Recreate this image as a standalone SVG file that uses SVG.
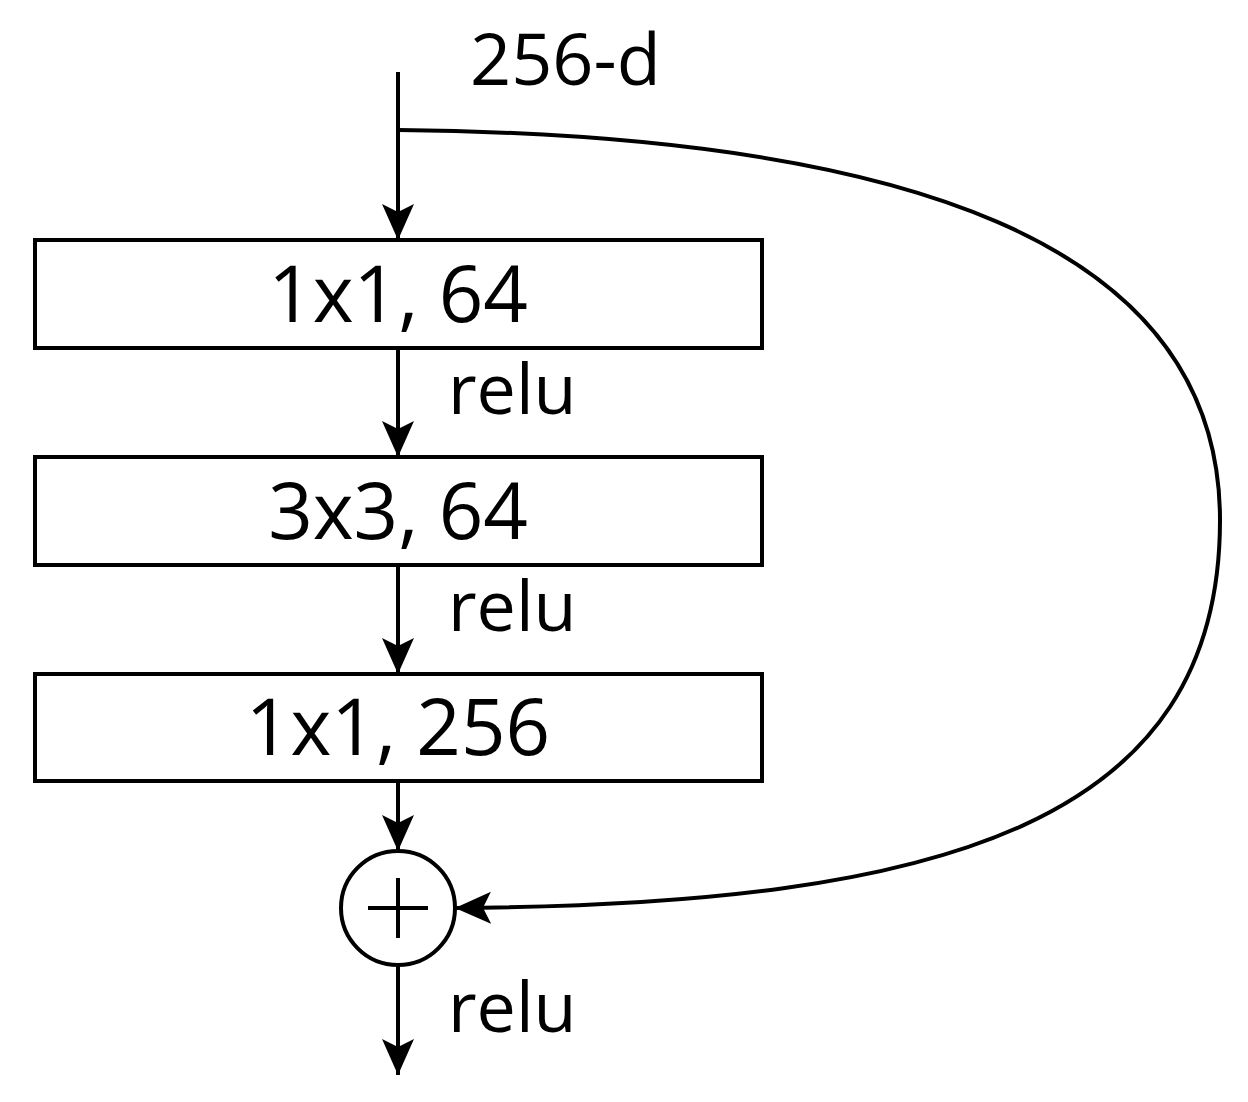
<svg xmlns="http://www.w3.org/2000/svg" width="1248" height="1102" viewBox="0 0 1248 1102">
<style>
.box{fill:#fff;stroke:#000;stroke-width:4}
.ln{fill:none;stroke:#000;stroke-width:4}
.t{font-family:"Open Sans","Noto Sans",sans-serif;fill:#000}
</style>
<defs>
<marker id="a" viewBox="0 0 36 36" refX="36" refY="18" markerWidth="36" markerHeight="36" markerUnits="userSpaceOnUse" orient="auto">
<path d="M0,2 L36,18 L0,34 L8,18 Z" fill="#000"/>
</marker>
</defs>
<rect width="1248" height="1102" fill="#fff"/>
<g id="connectors">
<line class="ln" x1="398" y1="72" x2="398" y2="240" marker-end="url(#a)"/>
<line class="ln" x1="398" y1="348" x2="398" y2="457" marker-end="url(#a)"/>
<line class="ln" x1="398" y1="565" x2="398" y2="674" marker-end="url(#a)"/>
<line class="ln" x1="398" y1="781" x2="398" y2="851" marker-end="url(#a)"/>
<line class="ln" x1="398" y1="965" x2="398" y2="1075" marker-end="url(#a)"/>
<path class="ln" d="M398,130 C900,135 1220,240 1220,520 C1220,820 950,905 455,908" marker-end="url(#a)"/>
</g>
<g id="label-in"><text class="t" x="470" y="85" font-size="72">256-d</text></g>
<g id="n1"><rect class="box" x="35" y="240" width="727" height="108"/><text class="t" x="398" y="322" font-size="78" text-anchor="middle">1x1, 64</text></g>
<g id="r1"><text class="t" x="448" y="414" font-size="70">relu</text></g>
<g id="n2"><rect class="box" x="35" y="457" width="727" height="108"/><text class="t" x="398" y="539" font-size="78" text-anchor="middle">3x3, 64</text></g>
<g id="r2"><text class="t" x="448" y="631" font-size="70">relu</text></g>
<g id="n3"><rect class="box" x="35" y="674" width="727" height="107"/><text class="t" x="398" y="755" font-size="78" text-anchor="middle">1x1, 256</text></g>
<g id="sum"><circle class="ln" cx="398" cy="908" r="57" fill="#fff"/><line class="ln" x1="368" y1="908" x2="428" y2="908"/><line class="ln" x1="398" y1="878" x2="398" y2="938"/></g>
<g id="r3"><text class="t" x="448" y="1032" font-size="70">relu</text></g>
</svg>
